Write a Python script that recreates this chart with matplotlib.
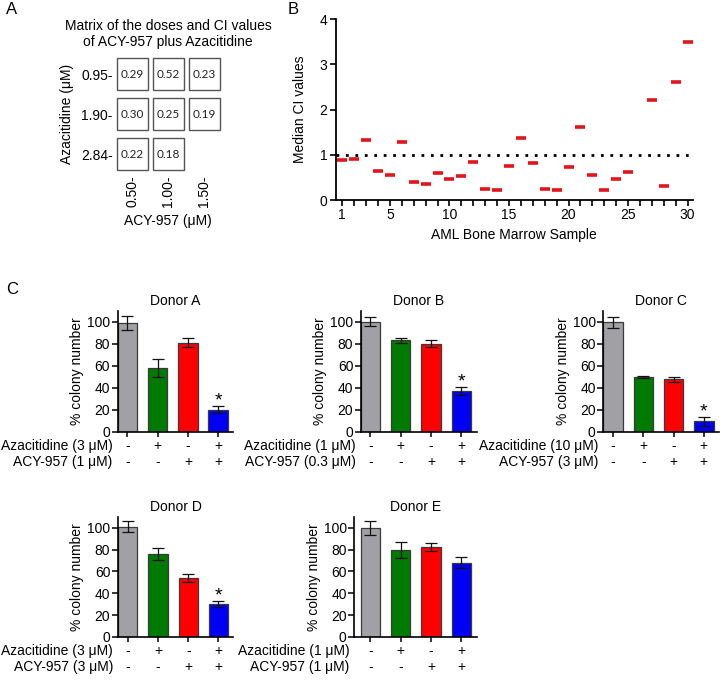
import numpy as np
import matplotlib
matplotlib.use("Agg")
import matplotlib.pyplot as plt
from matplotlib.patches import Rectangle

plt.rcParams['font.family'] = ['Liberation Sans', 'DejaVu Sans']
plt.rcParams['font.size'] = 10

# ---------------- data ----------------
# Panel A
acy_doses = ['0.50-', '1.00-', '1.50-']
aza_doses = ['0.95-', '1.90-', '2.84-']
ci_matrix = [[0.29, 0.52, 0.23],
             [0.30, 0.25, 0.19],
             [0.22, 0.18, None]]

# Panel B
samples = list(range(1, 31))
median_ci = [0.89, 0.91, 1.33, 0.65, 0.56, 1.29, 0.39, 0.35, 0.60, 0.47,
             0.52, 0.85, 0.24, 0.22, 0.76, 1.38, 0.81, 0.24, 0.22, 0.73,
             1.62, 0.56, 0.23, 0.47, 0.62, np.nan, 2.22, 0.32, 2.60, 3.50]
b_xticklabels = [1, 5, 10, 15, 20, 25, 30]

# Panel C
donors = ['Donor A', 'Donor B', 'Donor C', 'Donor D', 'Donor E']
colony_means = [[99, 58, 81, 20],
                [100, 83, 80, 37],
                [99.5, 49.5, 47.5, 9.5],
                [101, 76, 54, 30],
                [100, 79.5, 82, 68]]
colony_errs = [[6.3, 8, 4, 3],
               [4, 2.5, 3.3, 3.5],
               [5, 1, 2, 4.3],
               [5, 5.3, 3.6, 2.8],
               [6.5, 7, 3.7, 5]]
aza_labels = ['Azacitidine (3 \u03bcM)', 'Azacitidine (1 \u03bcM)', 'Azacitidine (10 \u03bcM)',
              'Azacitidine (3 \u03bcM)', 'Azacitidine (1 \u03bcM)']
acy_labels = ['ACY-957 (1 \u03bcM)', 'ACY-957 (0.3 \u03bcM)', 'ACY-957 (3 \u03bcM)',
              'ACY-957 (3 \u03bcM)', 'ACY-957 (1 \u03bcM)']
aza_signs = ['-', '+', '-', '+']
acy_signs = ['-', '-', '+', '+']
significant = [True, True, True, True, False]
bar_colors = ['#a0a0a5', '#007a00', '#ff0000', '#0000f5']

# ---------------- layout ----------------
W, H = 722, 680
fig = plt.figure(figsize=(W / 100, H / 100), dpi=100)


def px_axes(l, t, r, b):
    return fig.add_axes([l / W, 1 - b / H, (r - l) / W, (b - t) / H])


PX = 72 / 100  # points per pixel

# panel letters
fig.text(12 / W, 1 - 10 / H, 'A', fontsize=12, ha='center', va='center')
fig.text(293 / W, 1 - 9 / H, 'B', fontsize=12, ha='center', va='center')
fig.text(12 / W, 1 - 290 / H, 'C', fontsize=12, ha='center', va='center')

# ---------------- Panel A ----------------
axA = px_axes(114.2, 54.2, 222.2, 174)
axA.set_xlim(-0.5, 2.5)
axA.set_ylim(2.5, -0.5)
for r, row in enumerate(ci_matrix):
    for c, v in enumerate(row):
        if v is None:
            continue
        axA.add_patch(Rectangle((c - 0.43, r - 0.4), 0.86, 0.8, facecolor='white',
                                edgecolor='#555555', linewidth=1.0))
        axA.text(c, r, f'{v:.2f}', ha='center', va='center', fontsize=8.5,
                 family=['Lato', 'DejaVu Sans'], color='#222222')
for s in axA.spines.values():
    s.set_visible(False)
axA.set_xticks(range(3))
axA.set_xticklabels(acy_doses, rotation=90, fontsize=10)
axA.set_yticks(range(3))
axA.set_yticklabels(aza_doses, fontsize=10)
axA.tick_params(length=0, pad=1)
axA.set_xlabel('ACY-957 (\u03bcM)', fontsize=10, labelpad=5)
axA.set_ylabel('Azacitidine (\u03bcM)', fontsize=10, labelpad=5)
axA.set_title('Matrix of the doses and CI values\nof ACY-957 plus Azacitidine',
              fontsize=10, pad=6, linespacing=1.2)

# ---------------- Panel B ----------------
axB = px_axes(335.7, 19, 693, 200)
axB.plot(samples, median_ci, ls='none', marker='_', ms=6.5, mew=2.6, color='#e5141b')
axB.axhline(1, color='black', lw=2, ls=(0, (1, 2.4)))
axB.set_xlim(0.45, 30.45)
axB.set_ylim(0, 4)
axB.set_xticks(samples, minor=False)
axB.set_xticklabels([str(s) if s in b_xticklabels else '' for s in samples])
axB.set_yticks([0, 1, 2, 3, 4])
axB.spines['top'].set_visible(False)
axB.spines['right'].set_visible(False)
for s in ['left', 'bottom']:
    axB.spines[s].set_linewidth(1.3)
axB.tick_params(length=4, width=1.2, labelsize=10, pad=2)
axB.set_xlabel('AML Bone Marrow Sample', fontsize=10, labelpad=4)
axB.set_ylabel('Median CI values', fontsize=10, labelpad=9)

# ---------------- Panel C ----------------
boxes = [(117.7, 310.7, 233, 431.7, -0.32, 3.49),
         (361, 310.7, 477, 431.7, -0.31, 3.52),
         (603.3, 310.7, 719, 431.7, -0.32, 3.5),
         (118, 516.7, 233, 637, -0.32, 3.48),
         (354.3, 516.7, 477, 637, -0.53, 3.52)]

for k, (l, t, r, b, x0, x1) in enumerate(boxes):
    ax = px_axes(l, t, r, b)
    x = np.arange(4)
    ax.bar(x, colony_means[k], width=0.64, color=bar_colors, edgecolor='#3a3a3a',
           linewidth=0.9, zorder=2)
    ax.errorbar(x, colony_means[k], yerr=colony_errs[k], fmt='none', ecolor='#111111',
                elinewidth=0.9, capsize=4, capthick=0.9, zorder=3)
    if significant[k]:
        ax.annotate('*', xy=(3, colony_means[k][3] + colony_errs[k][3]),
                    xytext=(0, -2.5), textcoords='offset points',
                    ha='center', va='bottom', fontsize=14)
    ax.set_xlim(x0, x1)
    ax.set_ylim(0, 110)
    ax.set_yticks([0, 20, 40, 60, 80, 100])
    ax.set_xticks(x)
    ax.set_xticklabels([''] * 4)
    ax.spines['top'].set_visible(False)
    ax.spines['right'].set_visible(False)
    for s in ['left', 'bottom']:
        ax.spines[s].set_linewidth(1.2)
    ax.tick_params(axis='y', length=4, width=1.1, labelsize=10, pad=1.5)
    ax.tick_params(axis='x', length=3.5, width=1.1)
    ax.set_title(donors[k], fontsize=10, pad=4)
    ax.set_ylabel('% colony number', fontsize=10, labelpad=2)
    for i in range(4):
        ax.annotate(aza_signs[i], xy=(i, 0), xycoords=('data', 'axes fraction'),
                    xytext=(0, -14 * PX), textcoords='offset points',
                    ha='center', va='center', fontsize=10)
        ax.annotate(acy_signs[i], xy=(i, 0), xycoords=('data', 'axes fraction'),
                    xytext=(0, -30 * PX), textcoords='offset points',
                    ha='center', va='center', fontsize=10)
    ax.annotate(aza_labels[k], xy=(0, 0), xycoords='axes fraction',
                xytext=(-5 * PX, -14 * PX), textcoords='offset points',
                ha='right', va='center', fontsize=10)
    ax.annotate(acy_labels[k], xy=(0, 0), xycoords='axes fraction',
                xytext=(-5 * PX, -30 * PX), textcoords='offset points',
                ha='right', va='center', fontsize=10)

fig.savefig('out.png', dpi=100)
